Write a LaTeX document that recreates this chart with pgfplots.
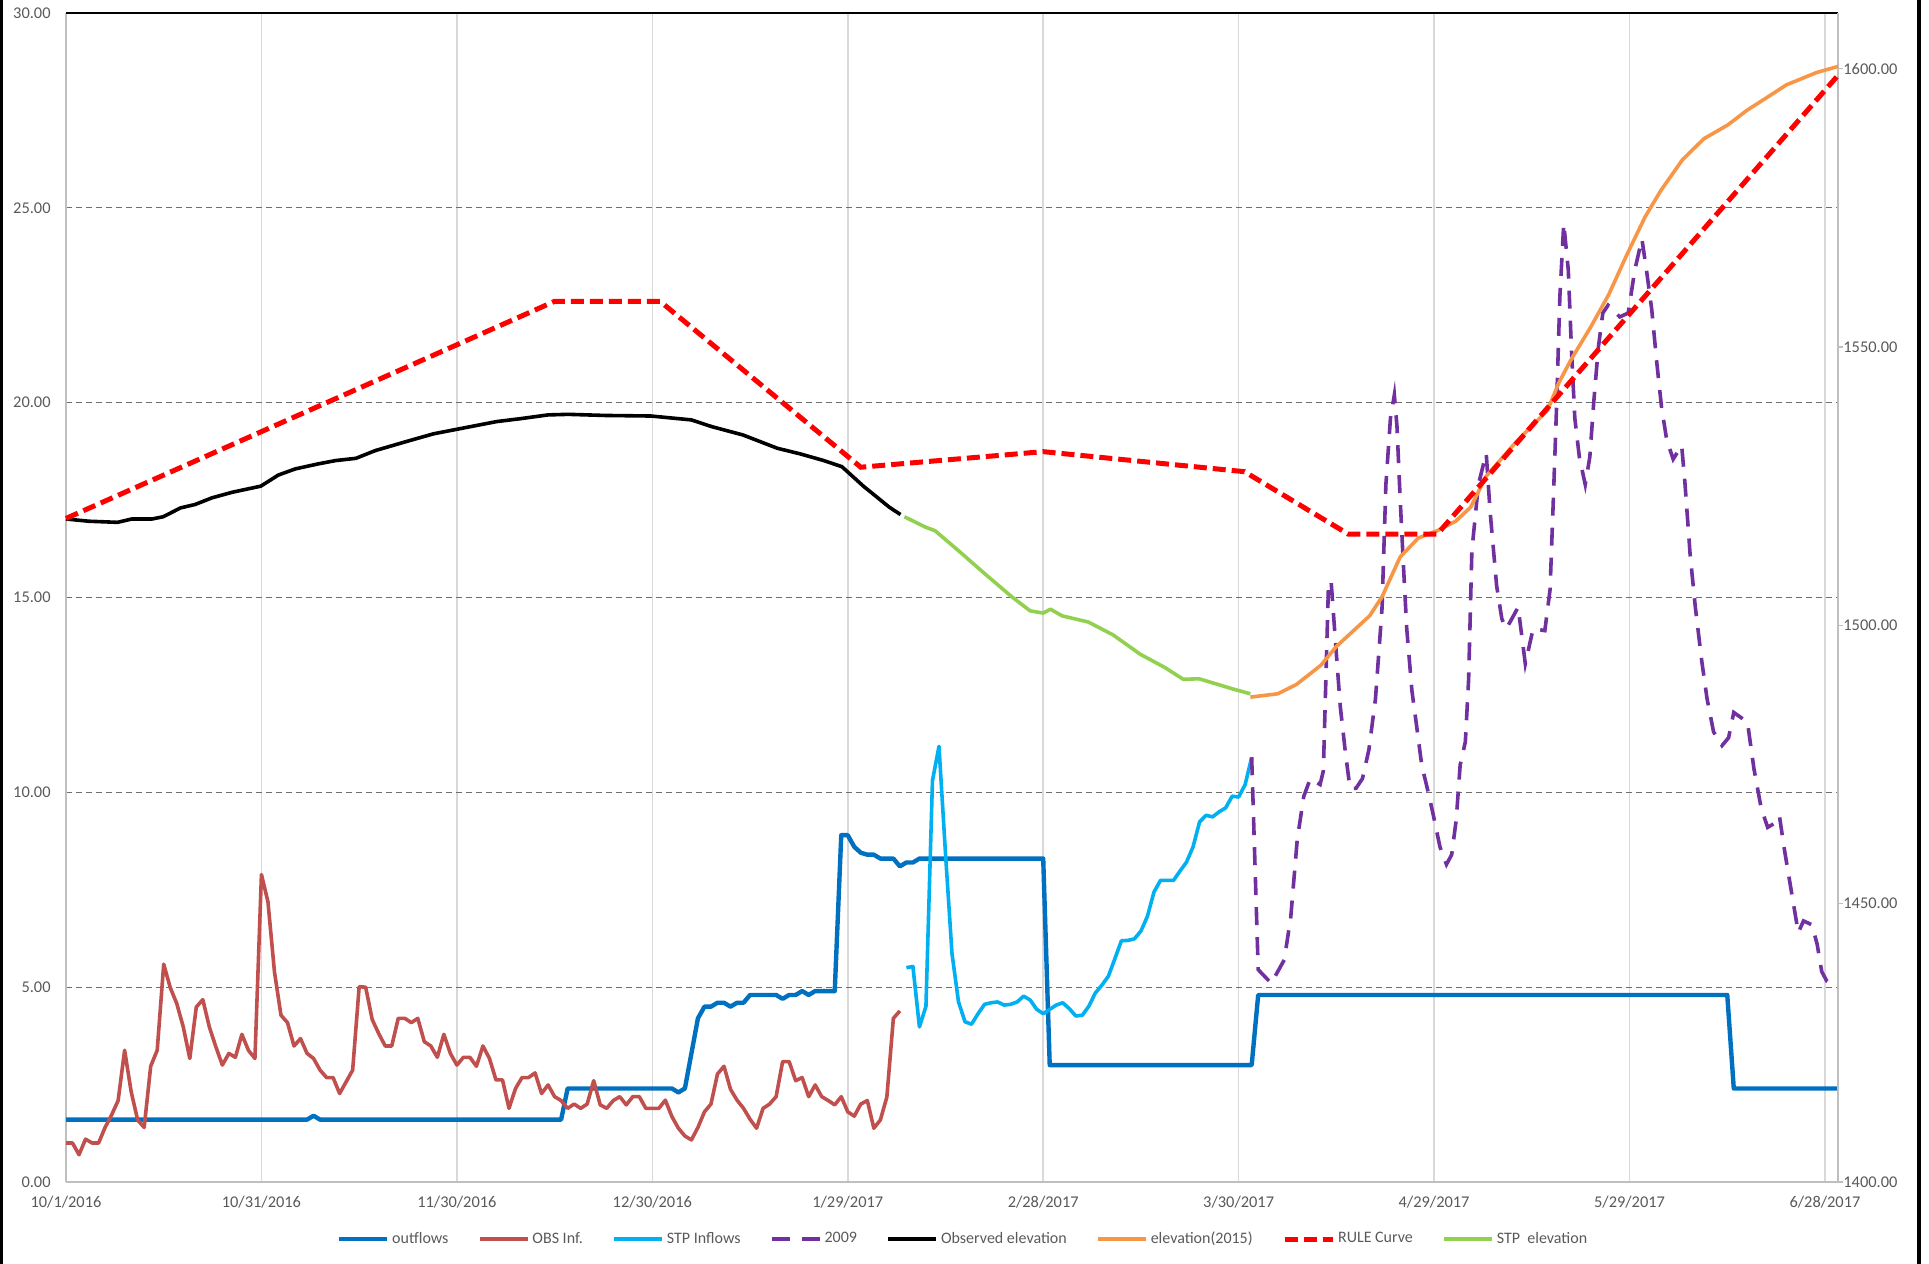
\documentclass[border=0pt]{standalone}
\usepackage{fontspec}
\setmainfont{Carlito}
\usepackage{pgfplots}
\pgfplotsset{compat=1.18}
\definecolor{outc}{HTML}{0070C0}
\definecolor{obsc}{HTML}{C0504D}
\definecolor{stpc}{HTML}{00B0F0}
\definecolor{purc}{HTML}{7030A0}
\definecolor{orac}{HTML}{F79646}
\definecolor{grnc}{HTML}{92D050}
\definecolor{txtc}{HTML}{595959}
\definecolor{axc}{HTML}{BFBFBF}
\definecolor{vgc}{HTML}{D9D9D9}
\definecolor{hgc}{HTML}{6E6E6E}
\tikzset{
 sOut/.style={color=outc, line width=2.2pt, line join=round},
 sObs/.style={color=obsc, line width=1.8pt, line join=round},
 sStp/.style={color=stpc, line width=1.8pt, line join=round},
 sPur/.style={color=purc, line width=1.8pt, dash pattern=on 9pt off 6pt},
 sBlk/.style={color=black, line width=1.8pt, line join=round},
 sOra/.style={color=orac, line width=1.8pt, line join=round},
 sRule/.style={color=red, line width=2.5pt, dash pattern=on 6.5pt off 3pt},
 sGrn/.style={color=grnc, line width=1.8pt, line join=round},
}
\pgfplotsset{
 common/.style={
  scale only axis, width=886pt, height=584.5pt,
  at={(33pt,41pt)}, anchor=south west,
  xmin=0, xmax=272, clip=false,
  axis line style={draw=none},
  /pgf/number format/assume math mode=true,
  yticklabel style={/pgf/number format/fixed, /pgf/number format/fixed zerofill, /pgf/number format/precision=2, /pgf/number format/1000 sep={}},
  ticklabel style={font=\fontsize{8.2}{10}\selectfont, text=txtc, inner sep=0pt},
 }
}
\begin{document}
\begin{tikzpicture}
\useasboundingbox (0,0) rectangle (964.5pt,632pt);
\fill[black] (0,0) rectangle (1.4pt,632pt);
\fill[black] (958.5pt,0) rectangle (960.5pt,632pt);
\begin{axis}[common,
  ymin=0, ymax=30, ytick={0,5,...,30},
  xtick={0,30,...,270},
  xticklabels={10/1/2016,10/31/2016,11/30/2016,12/30/2016,1/29/2017,2/28/2017,3/30/2017,4/29/2017,5/29/2017,6/28/2017},
  tick style={draw=none},
  xmajorgrids, ymajorgrids,
  major x grid style={vgc, line width=0.75pt},
  major y grid style={hgc, line width=0.5pt, dash pattern=on 3pt off 2pt},
  yticklabel shift=7.5pt, xticklabel shift=7pt,
  xticklabel style={anchor=north},
  yticklabel style={anchor=east},
]
\draw[axc, line width=1pt] (rel axis cs:0,0) -- (rel axis cs:0,1);
\draw[axc, line width=1pt] (rel axis cs:0,0) -- (rel axis cs:1,0);
\draw[black, line width=0.75pt] (rel axis cs:0,1) -- (rel axis cs:1,1);
% outflows
\addplot[sOut] table {
x y
0 1.6
37 1.6
38 1.7
39 1.6
76 1.6
77 2.4
93 2.4
94 2.3
95 2.4
97 4.2
98 4.5
99 4.5
100 4.6
101 4.6
102 4.5
103 4.6
104 4.6
105 4.8
109 4.8
110 4.7
111 4.8
112 4.8
113 4.9
114 4.8
115 4.9
118 4.9
119 8.9
120 8.9
121 8.6
122 8.45
123 8.4
124 8.4
125 8.3
127 8.3
128 8.1
129 8.2
130 8.2
131 8.3
150 8.3
151 3.0
182 3.0
183 4.8
255 4.8
256 2.4
272 2.4
};
% OBS Inf.
\addplot[sObs] table {
x y
0 1.0
1 1.0
2 0.7
3 1.1
4 1.0
5 1.0
6 1.4
7 1.72
8 2.09
9 3.38
10 2.32
11 1.59
12 1.40
13 2.97
14 3.38
15 5.59
16 4.99
17 4.58
18 3.98
19 3.17
20 4.49
21 4.68
22 3.98
23 3.47
24 3.0
25 3.3
26 3.2
27 3.79
28 3.38
29 3.17
30 7.89
31 7.19
32 5.39
33 4.28
34 4.09
35 3.49
36 3.68
37 3.3
38 3.17
39 2.87
40 2.68
41 2.68
42 2.27
43 2.57
44 2.87
45 5.01
46 5.0
47 4.17
48 3.81
49 3.49
50 3.49
51 4.2
52 4.2
53 4.09
54 4.2
55 3.6
56 3.49
57 3.2
58 3.79
59 3.3
60 3.0
61 3.2
62 3.2
63 2.97
64 3.49
65 3.17
66 2.62
67 2.62
68 1.89
69 2.4
70 2.68
71 2.68
72 2.8
73 2.27
74 2.49
75 2.19
76 2.09
77 1.89
78 2.0
79 1.89
80 2.0
81 2.6
82 1.98
83 1.89
84 2.09
85 2.19
86 1.98
87 2.19
88 2.19
89 1.89
90 1.89
91 1.89
92 2.1
93 1.68
94 1.38
95 1.18
96 1.08
97 1.4
98 1.8
99 2.0
100 2.77
101 2.97
102 2.38
103 2.1
104 1.89
105 1.61
106 1.38
107 1.89
108 2.0
109 2.19
110 3.09
111 3.09
112 2.6
113 2.68
114 2.19
115 2.49
116 2.19
117 2.09
118 1.98
119 2.19
120 1.8
121 1.69
122 2.0
123 2.09
124 1.38
125 1.59
126 2.18
127 4.2
128 4.39
};
% STP Inflows
\addplot[sStp] table {
x y
129 5.5
130 5.53
131 3.98
132 4.51
133 10.3
134 11.18
135 8.43
136 5.86
137 4.62
138 4.11
139 4.05
140 4.32
141 4.56
142 4.6
143 4.62
144 4.54
145 4.56
146 4.62
147 4.77
148 4.67
149 4.43
150 4.32
151 4.43
152 4.54
153 4.6
154 4.45
155 4.26
156 4.28
157 4.51
158 4.85
159 5.05
160 5.28
161 5.73
162 6.19
163 6.2
164 6.24
165 6.44
166 6.82
167 7.44
168 7.74
169 7.74
170 7.74
171 7.98
172 8.21
173 8.6
174 9.24
175 9.41
176 9.37
177 9.5
178 9.6
179 9.9
180 9.88
181 10.2
182 10.9
};
% 2009
\addplot[sPur] table {
x y
182 10.9
183 5.45
185 5.1
187 5.7
188 6.8
189 8.8
190 9.9
191 10.35
192.5 10.2
193 10.55
193.8 15.4
194.2 15.4
194.8 14.0
195.6 12.2
196.4 11.0
197.1 10.1
198 10.1
199 10.35
200 11.1
201 12.4
202 14.7
202.6 17.9
203.3 19.6
203.9 20.2
204.3 19.4
204.8 17.5
205.3 15.8
205.8 14.2
206.6 12.6
207.4 11.6
208.1 10.7
209.1 10.0
209.9 9.4
210.9 8.6
211.9 8.15
212.7 8.4
213.4 9.3
214 10.7
214.8 11.3
215.3 12.9
215.8 16.2
216.8 17.9
218 18.7
218.6 17.2
219.6 15.3
220.4 14.45
221.1 14.2
222.9 14.75
224 13.3
225.2 14.2
227 14.15
227.8 15.2
228.3 17.5
228.8 19.9
229.3 22.7
229.9 24.6
230.6 23.4
231.1 21.3
231.6 19.6
232.3 18.6
233.2 17.9
233.9 18.6
234.5 20.0
235.2 21.4
235.9 22.3
236.7 22.5
238.5 22.2
239.8 22.3
240.8 23.4
241.9 24.2
242.6 23.4
243.4 22.4
244.2 21.0
244.9 19.9
245.7 19.05
246.7 18.55
248 18.9
248.5 17.95
249.3 16.1
250.1 14.75
251.1 13.35
251.9 12.4
252.9 11.55
254.2 11.2
255.2 11.4
256 12.05
258.1 11.8
259.1 10.6
260.2 9.6
261.2 9.1
262.2 9.2
263 9.4
263.8 8.5
264.9 7.4
265.9 6.4
266.7 6.7
268 6.6
268.8 6.1
269.5 5.4
270.3 5.15
272 5.0
};
\end{axis}
\begin{axis}[common,
  ymin=1400, ymax=1610, ytick={1400,1450,...,1600},
  xtick=\empty,
  ytick pos=right, yticklabel pos=right,
  tick align=outside, major tick length=2.5pt,
  ytick style={axc, line width=0.75pt},
  yticklabel shift=0pt,
  yticklabel style={anchor=west},
  legend columns=8,
  legend cell align=left,
  legend image code/.code={\draw[#1] (0pt,0pt) -- (24pt,0pt);},
  legend style={draw=none, fill=none, at={(0.5065,-0.0488)}, anchor=center,
    font=\fontsize{8}{10}\selectfont, text=txtc, inner sep=0pt,
    nodes={inner sep=1.5pt},
    /tikz/every even column/.append style={column sep=13.2pt}},
]
\draw[axc, line width=1pt] (rel axis cs:1,0) -- (rel axis cs:1,1);
\addlegendimage{sOut}
\addlegendentry{outflows}
\addlegendimage{sObs}
\addlegendentry{OBS Inf.}
\addlegendimage{sStp}
\addlegendentry{STP Inflows}
\addlegendimage{sPur}
\addlegendentry{2009}
% Observed elevation
\addplot[sBlk] table {
x y
0 1519.1
3.5 1518.7
7.9 1518.5
10.1 1519.1
13.2 1519.1
14.9 1519.5
17.6 1521.1
19.8 1521.7
22.4 1522.9
25.5 1523.9
29.9 1525.0
32.6 1527.0
35.2 1528.1
38.7 1529.0
41.4 1529.6
44.5 1530.0
47.5 1531.4
51.9 1532.9
56.4 1534.4
60.8 1535.4
66.1 1536.6
69.6 1537.1
74 1537.8
77.1 1537.9
82.8 1537.7
89.8 1537.6
96 1536.9
99.1 1535.7
103.9 1534.2
109.2 1531.8
112.7 1530.8
116.3 1529.6
119.1 1528.5
122.4 1525.0
126.4 1521.2
128.1 1519.9
};
\addlegendentry{Observed elevation}
% elevation(2015)
\addplot[sOra] table {
x y
181.8 1487.1
186 1487.7
188.9 1489.4
192.6 1492.8
195 1496.2
200.1 1501.7
202 1505.1
204.8 1512.3
207.6 1515.7
210.5 1517.0
213.3 1518.7
215.6 1521.2
218 1526.8
222.7 1533.1
227.4 1538.6
229.2 1543.7
231.1 1547.9
234 1553.5
236.8 1559.4
239.6 1566.6
242.4 1573.4
244.8 1578.1
248.1 1583.6
251.4 1587.4
255.1 1589.9
258 1592.5
260.8 1594.6
264.1 1597.1
268.7 1599.3
272 1600.4
};
\addlegendentry{elevation(2015)}
% RULE Curve
\addplot[sRule] table {
x y
0 1519.2
75 1558.2
91.2 1558.2
122 1528.4
150 1531.2
180.9 1527.6
196.8 1516.4
210.5 1516.4
272 1598.8
};
\addlegendentry{RULE Curve}
% STP elevation
\addplot[sGrn] table {
x y
128.7 1519.5
132 1517.6
133.4 1517.0
137.2 1513.2
140.9 1509.4
145.2 1505.1
148 1502.6
150 1502.2
151.1 1502.9
152.9 1501.7
156.9 1500.6
160.7 1498.3
164.9 1494.8
168.7 1492.4
171.5 1490.3
173.9 1490.4
176.2 1489.6
179 1488.6
181.8 1487.7
};
\addlegendentry{STP~~elevation}
\end{axis}
\end{tikzpicture}
\end{document}
